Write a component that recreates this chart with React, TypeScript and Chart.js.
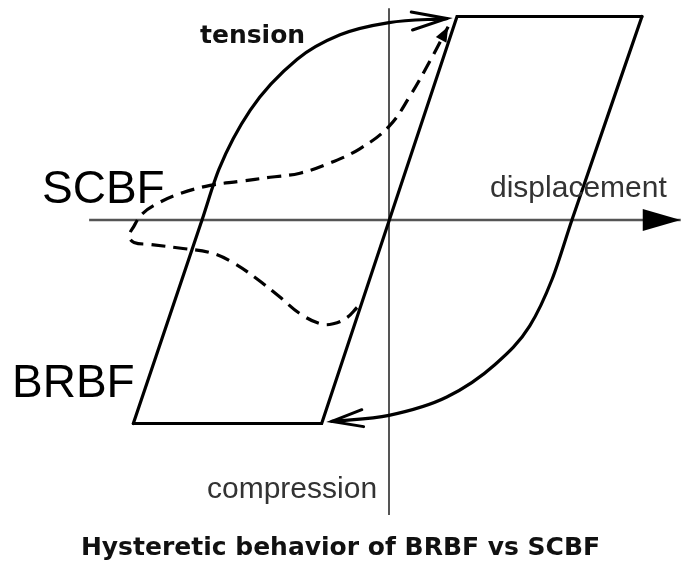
import React, { useEffect, useRef } from "react";
import { Chart, registerables } from "chart.js";

Chart.register(...registerables);

// ---- Data (normalised displacement d, normalised force F) ----
// BRBF envelope: bottom plateau, elastic reloading line through origin, top plateau
const brbfEnvelopeD = [-3.76, -0.99, 1.0, 3.72];
const brbfEnvelopeF = [-1.0, -1.0, 1.0, 1.0];

// BRBF tension branch (solid, arrow at end)
const tensionD = [-3.76, -2.75, -2.5, -2.04, -1.35, -0.72, 0.0, 0.85];
const tensionF = [-1.0, 0.0, 0.25, 0.54, 0.79, 0.91, 0.97, 0.99];

// BRBF compression branch (solid, arrow at end)
const compressionD = [3.72, 2.69, 2.4, 2.07, 1.56, 0.85, 0.0, -0.84];
const compressionF = [1.0, 0.0, -0.29, -0.52, -0.71, -0.87, -0.96, -0.99];

// SCBF loop (dashed, arrow at end)
const scbfD = [
  -0.47, -0.62, -0.82, -1.01, -1.31, -1.6, -1.94, -2.29, -2.63, -3.03, -3.51, -3.75, -3.82,
  -3.75, -3.63, -3.41, -3.07, -2.63, -2.19, -1.75, -1.31, -0.87, -0.43, 0.0, 0.31, 0.6, 0.87,
];
const scbfF = [
  -0.43, -0.48, -0.51, -0.51, -0.46, -0.38, -0.29, -0.21, -0.16, -0.14, -0.12, -0.11, -0.08,
  -0.03, 0.03, 0.08, 0.13, 0.17, 0.19, 0.21, 0.23, 0.28, 0.35, 0.46, 0.61, 0.78, 0.95,
];

// Axes extents
const displacementAxisD = [-4.41, 4.29];
const forceAxisF = [1.04, -1.45];

// Labels
const titleText = "Hysteretic behavior of BRBF vs SCBF";
const labelTension = "tension";
const labelCompression = "compression";
const labelDisplacement = "displacement";
const labelSCBF = "SCBF";
const labelBRBF = "BRBF";

// ---- Layout constants ----
const W = 681;
const H = 565;
const ORIGIN_X = 389;
const ORIGIN_Y = 220;
const PX_PER_D = 68;
const PX_PER_F = 203.5;
const TITLE_SIZE = 25;
const TITLE_PAD_TOP = 4;
const TITLE_PAD_BOTTOM = 2;
const AREA_BOTTOM = H - (TITLE_SIZE * 1.2 + TITLE_PAD_TOP + TITLE_PAD_BOTTOM);

const zip = (xs: number[], ys: number[]) => xs.map((x, i) => ({ x, y: ys[i] }));

const textLabels = [
  { text: labelTension, x: 200, y: 43, font: "bold 25px 'DejaVu Sans'", color: "#111" },
  { text: labelSCBF, x: 42, y: 203, font: "46px 'Liberation Sans'", color: "#000" },
  { text: labelBRBF, x: 12, y: 397, font: "46px 'Liberation Sans'", color: "#000" },
  { text: labelDisplacement, x: 490, y: 197, font: "30px 'Liberation Sans'", color: "#333" },
  { text: labelCompression, x: 207, y: 498, font: "30px 'Liberation Sans'", color: "#333" },
];

const arrowPlugin = {
  id: "arrowHeads",
  afterDatasetsDraw(chart: any) {
    const ctx = chart.ctx;
    chart.data.datasets.forEach((ds: any, i: number) => {
      const a = ds.arrow;
      if (!a) return;
      const pts = chart.getDatasetMeta(i).data;
      const n = pts.length;
      const p1 = pts[n - 2];
      const p2 = pts[n - 1];
      const dx = p2.x - p1.x;
      const dy = p2.y - p1.y;
      const len = Math.hypot(dx, dy) || 1;
      const ux = dx / len;
      const uy = dy / len;
      const bx = p2.x - ux * a.length;
      const by = p2.y - uy * a.length;
      const nx = -uy;
      const ny = ux;
      ctx.save();
      ctx.setLineDash([]);
      ctx.beginPath();
      ctx.moveTo(bx + nx * a.width, by + ny * a.width);
      ctx.lineTo(p2.x, p2.y);
      ctx.lineTo(bx - nx * a.width, by - ny * a.width);
      if (a.filled) {
        ctx.closePath();
        ctx.fillStyle = a.color;
        ctx.fill();
      } else {
        ctx.strokeStyle = a.color;
        ctx.lineWidth = a.lineWidth;
        ctx.lineJoin = "miter";
        ctx.lineCap = "round";
        ctx.stroke();
      }
      ctx.restore();
    });
  },
};

const textPlugin = {
  id: "textLabels",
  beforeDraw(chart: any) {
    const ctx = chart.ctx;
    ctx.save();
    ctx.fillStyle = "#ffffff";
    ctx.fillRect(0, 0, chart.width, chart.height);
    ctx.restore();
  },
  afterDatasetsDraw(chart: any) {
    const ctx = chart.ctx;
    ctx.save();
    ctx.textBaseline = "alphabetic";
    ctx.textAlign = "left";
    textLabels.forEach((l) => {
      ctx.font = l.font;
      ctx.fillStyle = l.color;
      ctx.fillText(l.text, l.x, l.y);
    });
    ctx.restore();
  },
};

export default function App() {
  const ref = useRef<HTMLCanvasElement>(null);

  useEffect(() => {
    if (!ref.current) return;
    const solid = {
      borderColor: "#000",
      borderWidth: 3.2,
      pointRadius: 0,
      showLine: true,
      fill: false,
      borderJoinStyle: "round",
      borderCapStyle: "round",
    };
    const chart = new Chart(ref.current, {
      type: "scatter",
      data: {
        datasets: [
          { ...solid, label: "BRBF envelope", data: zip(brbfEnvelopeD, brbfEnvelopeF), tension: 0, borderJoinStyle: "miter" },
          {
            ...solid,
            label: "tension",
            data: zip(tensionD, tensionF),
            cubicInterpolationMode: "monotone",
            arrow: { length: 35, width: 9, filled: false, color: "#000", lineWidth: 3 },
          },
          {
            ...solid,
            label: "compression",
            data: zip(compressionD, compressionF),
            cubicInterpolationMode: "monotone",
            arrow: { length: 31, width: 8.5, filled: false, color: "#000", lineWidth: 3 },
          },
          {
            ...solid,
            label: "SCBF",
            data: zip(scbfD, scbfF),
            tension: 0.4,
            borderDash: [14, 8],
            borderCapStyle: "butt",
            arrow: { length: 15, width: 6, filled: true, color: "#000" },
          },
          {
            label: "displacement axis",
            data: zip(displacementAxisD, [0, 0]),
            showLine: true,
            borderColor: "#555",
            borderWidth: 2.5,
            pointRadius: 0,
            tension: 0,
            arrow: { length: 38, width: 11, filled: true, color: "#000" },
          },
          {
            label: "force axis",
            data: zip([0, 0], forceAxisF),
            showLine: true,
            borderColor: "#555",
            borderWidth: 2,
            pointRadius: 0,
            tension: 0,
          },
        ] as any,
      },
      options: {
        responsive: false,
        animation: false,
        devicePixelRatio: 1,
        layout: { padding: 0 },
        events: [],
        scales: {
          x: {
            type: "linear",
            display: false,
            min: -ORIGIN_X / PX_PER_D,
            max: (W - ORIGIN_X) / PX_PER_D,
          },
          y: {
            type: "linear",
            display: false,
            max: ORIGIN_Y / PX_PER_F,
            min: (ORIGIN_Y - AREA_BOTTOM) / PX_PER_F,
          },
        },
        plugins: {
          legend: { display: false },
          tooltip: { enabled: false },
          title: {
            display: true,
            position: "bottom",
            text: titleText,
            color: "#111",
            font: { family: "'DejaVu Sans'", weight: "bold", size: TITLE_SIZE, lineHeight: 1.2 },
            padding: { top: TITLE_PAD_TOP, bottom: TITLE_PAD_BOTTOM },
          },
        },
      } as any,
      plugins: [textPlugin, arrowPlugin],
    });
    return () => chart.destroy();
  }, []);

  return (
    <div style={{ position: "absolute", left: 0, top: 0, width: W, height: H, background: "#fff" }}>
      <canvas ref={ref} width={W} height={H} style={{ display: "block" }} />
    </div>
  );
}
